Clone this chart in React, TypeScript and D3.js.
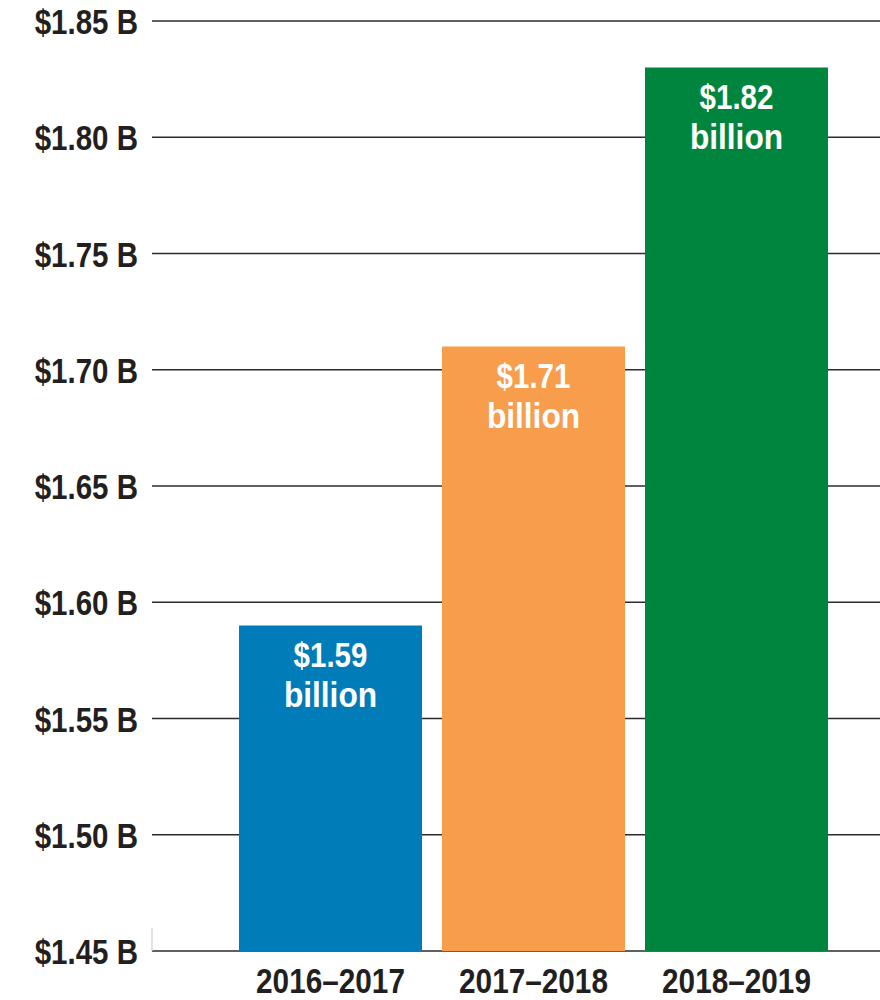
import React from "react";
import * as d3 from "d3";

const categories = ["2016–2017", "2017–2018", "2018–2019"];
// bar heights as drawn in the reference (billions of dollars)
const barValues = [1.59, 1.71, 1.83];
// printed labels on the bars
const barLabels = ["$1.59", "$1.71", "$1.82"];
const barColors = ["#007DB8", "#F79D4C", "#00853F"];
const yTicks = [1.45, 1.5, 1.55, 1.6, 1.65, 1.7, 1.75, 1.8, 1.85];

const W = 880;
const H = 1000;
const FONT = "'Liberation Sans', Arial, sans-serif";
const SX = 0.82;

function CText(props: {
  x: number;
  y: number;
  anchor: "start" | "middle" | "end";
  size: number;
  fill: string;
  sx?: number;
  children: React.ReactNode;
}) {
  const { x, y, anchor, size, fill, sx = SX, children } = props;
  return (
    <text
      transform={`translate(${x},${y}) scale(${sx},1)`}
      textAnchor={anchor}
      fontSize={size}
      fill={fill}
    >
      {children}
    </text>
  );
}

export default function App() {
  const y = d3.scaleLinear().domain([1.45, 1.85]).range([951, 21]);
  const x = d3
    .scaleBand<string>()
    .domain(categories)
    .range([239, 828])
    .paddingInner(20 / 203)
    .paddingOuter(0);
  const gridX0 = 152;
  const gridX1 = W;
  const fmt = (v: number) => `$${d3.format(".2f")(v)} B`;

  return (
    <svg
      width={W}
      height={H}
      viewBox={`0 0 ${W} ${H}`}
      style={{ position: "absolute", left: 0, top: 0, background: "#fff" }}
      fontFamily={FONT}
      fontWeight="bold"
    >
      {yTicks.map((t) => (
        <line
          key={"g" + t}
          x1={gridX0}
          x2={gridX1}
          y1={y(t)}
          y2={y(t)}
          stroke="#2b2b2b"
          strokeWidth={1.6}
        />
      ))}
      <line x1={gridX0} x2={gridX0} y1={y(1.45) - 23} y2={y(1.45)} stroke="#cfcfcf" strokeWidth={1.2} />
      {yTicks.map((t) => (
        <CText key={"t" + t} x={138} y={y(t) + 13} anchor="end" size={36} fill="#231F20">
          {fmt(t)}
        </CText>
      ))}
      {categories.map((c, i) => {
        const bx = x(c)!;
        const top = y(barValues[i]);
        const cx = bx + x.bandwidth() / 2;
        return (
          <g key={c}>
            <rect
              x={bx}
              y={top}
              width={x.bandwidth()}
              height={y(1.45) - top}
              fill={barColors[i]}
            />
            <CText x={cx} y={top + 41} anchor="middle" size={36} fill="#fff">
              {barLabels[i]}
            </CText>
            <CText x={cx} y={top + 81} anchor="middle" size={36} fill="#fff" sx={0.88}>
              billion
            </CText>
            <CText x={cx} y={993} anchor="middle" size={35} fill="#231F20" sx={0.85}>
              {c}
            </CText>
          </g>
        );
      })}
    </svg>
  );
}
